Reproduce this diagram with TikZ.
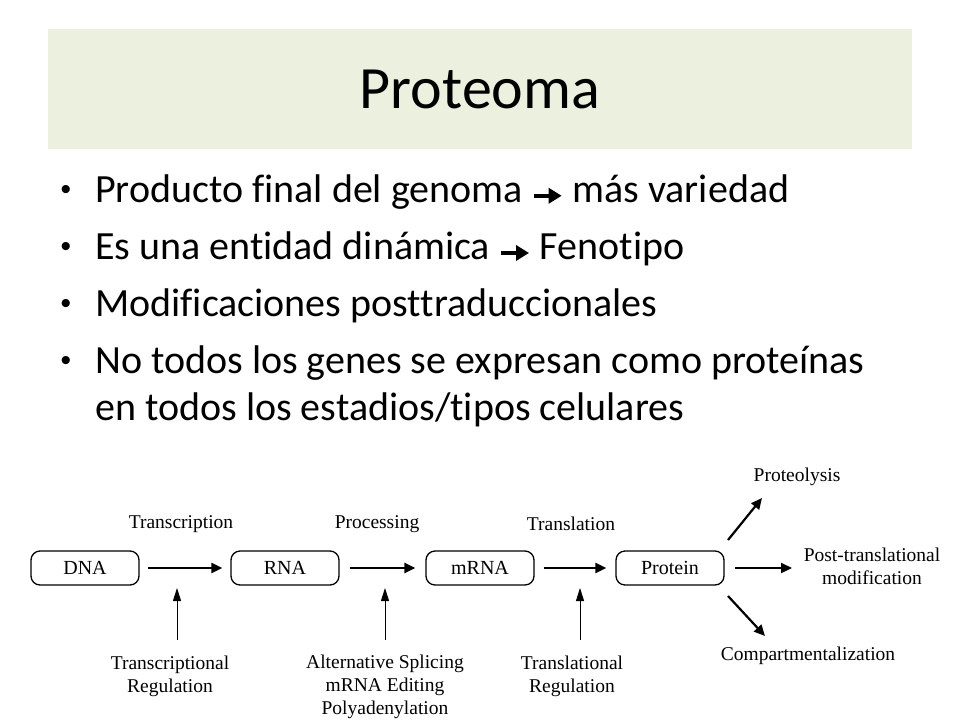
\documentclass[tikz,border=0pt]{standalone}
\usepackage{fontspec}
\setmainfont{Carlito}[Ligatures=NoCommon]
\newfontfamily\ser{Liberation Serif}
\newfontfamily\lsans{Liberation Sans}
\usetikzlibrary{arrows.meta}
\definecolor{titlebg}{HTML}{EBF1DE}
\newcommand{\bigarr}{\tikz[baseline=-0.35ex,x=1pt,y=1pt]\draw[line width=3.5pt,-{Triangle[length=13pt,width=15pt]}] (0,0)--(28,0);}
\begin{document}
\begin{tikzpicture}[x=1pt,y=-1pt,
  bul/.style={anchor=west,font=\fontsize{40}{46}\selectfont,inner sep=0pt},
  dot/.style={font=\lsans\fontsize{30}{34}\selectfont,inner sep=0pt},
  box/.style={draw,line width=1.3pt,rounded corners=9pt,minimum width=108pt,minimum height=34pt,font=\ser\fontsize{20}{22}\selectfont},
  lab/.style={font=\ser\fontsize{19.5}{23}\selectfont,align=center,inner sep=0pt},
  thk/.style={line width=2.2pt,-{Triangle[length=11pt,width=10pt]}},
  thn/.style={line width=1pt,-{Triangle[length=13pt,width=8pt]}}]
\useasboundingbox (0,0) rectangle (960,720);
\fill[white] (0,0) rectangle (960,720);
\node[fill=titlebg,minimum width=864pt,minimum height=120pt,inner sep=0pt] (title) at (480,89) {\fontsize{60}{66}\selectfont Proteoma};
\foreach \y/\n in {192/a,249/b,306/c,363/d}{\node[dot] (d\n) at (66,\y) {•};}
\node[bul] (b1) at (95,192) {Producto final del genoma \bigarr{} más variedad};
\node[bul] (b2) at (95,249) {Es una entidad dinámica \bigarr{} Fenotipo};
\node[bul] (b3) at (95,306) {Modificaciones posttraduccionales};
\node[bul] (b4) at (95,363) {No todos los genes se expresan como proteínas};
\node[bul] (b5) at (95,410) {en todos los estadios/tipos celulares};
\node[box] (dna) at (85,568) {DNA};
\node[box] (rna) at (285,568) {RNA};
\node[box] (mrna) at (480,568) {mRNA};
\node[box] (prot) at (670,568) {Protein};
\draw[thk] (dna.east)++(8,0) -- ([xshift=-8pt]rna.west);
\draw[thk] (rna.east)++(10,0) -- ([xshift=-10pt]mrna.west);
\draw[thk] (mrna.east)++(9,0) -- ([xshift=-9pt]prot.west);
\node[lab] (l1) at (181,524) {Transcription};
\node[lab] (l2) at (377,524) {Processing};
\node[lab] (l3) at (571,524) {Translation};
\node[lab] (r1) at (170,676) {Transcriptional\\Regulation};
\node[lab] (r2) at (385,687) {Alternative Splicing\\mRNA Editing\\Polyadenylation};
\node[lab] (r3) at (572,676) {Translational\\Regulation};
\coordinate (c1) at (177,640); \coordinate (c1e) at (177,588);
\coordinate (c2) at (385,640); \coordinate (c2e) at (385,588);
\coordinate (c3) at (580,640); \coordinate (c3e) at (580,588);
\draw[thn] (c1) -- (c1e);
\draw[thn] (c2) -- (c2e);
\draw[thn] (c3) -- (c3e);
\node[lab] (p1) at (797,477) {Proteolysis};
\node[lab] (p2) at (872,566) {Post-translational\\modification};
\node[lab] (p3) at (808,656) {Compartmentalization};
\coordinate (o1) at (728,540); \coordinate (o1e) at (762,498);
\coordinate (o2) at (735,568); \coordinate (o2e) at (792,568);
\coordinate (o3) at (728,596); \coordinate (o3e) at (765,636);
\draw[thk] (o1) -- (o1e);
\draw[thk] (o2) -- (o2e);
\draw[thk] (o3) -- (o3e);
\end{tikzpicture}
\end{document}
